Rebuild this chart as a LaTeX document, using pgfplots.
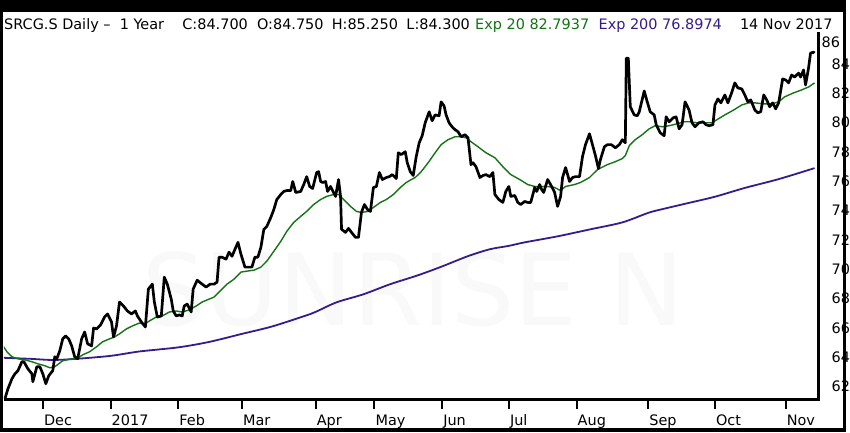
\documentclass[border=0pt]{standalone}
\usepackage{fontspec}
\setmainfont{DejaVu Sans}
\usepackage{pgfplots}
\pgfplotsset{compat=1.18}
\definecolor{emagreen}{RGB}{20,115,20}
\definecolor{emapurple}{RGB}{52,28,140}
\begin{document}
\begin{tikzpicture}[x=1pt,y=1pt]
\fill[black] (0,0) rectangle (850,434);
\fill[white] (3,4) rectangle (847,422);
\node[text=black!2.5, font=\fontsize{100}{100}\selectfont, anchor=center] at (415,144) {SUNRISE N};
\begin{axis}[at={(4pt,33pt)}, anchor=south west, scale only axis,
  width=818pt, height=369pt,
  xmin=4, xmax=822, ymin=61.14, ymax=86.19,
  axis line style={draw=none},
  xtick={43,111,179,243,317,376,444,511,579,651,718,789},
  xticklabels={Dec,2017,Feb,Mar,Apr,May,Jun,Jul,Aug,Sep,Oct,Nov},
  xtick pos=left, tick align=outside, major tick length=10pt,
  x tick style={black, line width=2pt},
  ytick={62,64,...,84}, ytick pos=right, yticklabel pos=right,
  y tick style={draw=none},
  yticklabel style={anchor=west, inner sep=0pt, xshift=3pt},
  xticklabel style={anchor=base west, inner sep=0pt, xshift=1pt, yshift=-16pt},
  ticklabel style={font=\fontsize{14.5}{14.5}\selectfont},
  /pgf/number format/assume math mode=true,
  name=ax]
\addplot[emapurple, line width=1.8pt, smooth] coordinates {
(3,63.97) (30,63.90) (53,63.82) (77,63.90) (111,64.1) (140,64.4) (179,64.68) (210,65.05) (243,65.6) (273,66.1) (305,66.8) (317,67.1) (338,67.75) (365,68.3) (392,68.99) (420,69.6) (444,70.2) (470,70.9) (492,71.37) (511,71.6) (527,71.84) (560,72.25) (593,72.73) (625,73.2) (651,73.85) (665,74.1) (690,74.5) (718,74.95) (748,75.55) (782,76.15) (818,76.9)
};
\addplot[emagreen, line width=1.4pt] coordinates {
(3,64.78) (7,64.38) (12,64.04) (18,63.90) (25,63.83) (32,63.70) (38,63.56) (45,63.43) (50,63.29) (55,63.36) (59,63.56) (63,63.77) (67,63.83) (72,63.90) (77,63.90) (83,64.17) (90,64.38) (97,64.72) (103,65.06) (110,65.26) (115,65.39) (120,65.60) (127,65.94) (133,66.14) (140,66.34) (145,66.25) (150,66.48) (157,66.75) (163,66.82) (170,67.09) (177,67.16) (183,67.09) (190,67.23) (197,67.50) (203,67.77) (210,67.97) (215,68.11) (220,68.45) (228,68.99) (235,69.33) (242,69.81) (248,69.88) (255,69.94) (262,70.15) (268,70.56) (275,71.23) (282,71.91) (288,72.59) (295,73.20) (302,73.61) (308,73.95) (315,74.42) (322,74.76) (328,74.97) (335,75.10) (340,75.10) (345,74.76) (352,74.29) (358,73.95) (363,73.88) (370,73.95) (375,74.22) (382,74.56) (388,74.76) (395,75.10) (402,75.58) (408,75.92) (413,76.12) (417,76.26) (423,76.66) (430,77.27) (437,77.95) (443,78.50) (450,78.84) (457,79.04) (463,79.04) (468,78.97) (473,78.70) (480,78.36) (488,77.95) (497,77.61) (505,77.00) (513,76.46) (522,76.12) (530,75.78) (537,75.65) (543,75.65) (550,75.65) (557,75.58) (563,75.37) (568,75.65) (577,75.78) (583,75.92) (592,76.26) (600,76.80) (610,77.14) (618,77.34) (625,77.55) (628,77.75) (632,78.43) (638,78.84) (645,79.18) (652,79.58) (658,79.79) (665,79.72) (672,79.79) (680,79.92) (687,80.06) (693,80.06) (700,79.99) (708,79.99) (715,79.99) (720,80.20) (728,80.53) (737,80.87) (745,81.21) (752,81.35) (758,81.35) (767,81.28) (775,81.28) (782,81.42) (788,81.76) (797,82.03) (805,82.23) (812,82.43) (818,82.71)
};
\addplot[black, line width=2.7pt, line join=round] coordinates {
(5,61.19) (8,61.86) (12,62.54) (15,62.88) (18,63.09) (22,63.70) (24,63.70) (28,63.22) (32,62.88) (33,62.34) (37,63.36) (40,63.36) (43,62.88) (46,62.20) (49,62.75) (53,63.09) (55,64.04) (57,63.90) (60,64.44) (63,65.26) (66,65.46) (69,65.26) (72,64.78) (75,64.04) (78,63.90) (82,65.26) (85,65.73) (88,64.92) (92,64.78) (94,66.00) (97,65.94) (101,66.21) (105,66.75) (108,66.96) (112,66.41) (114,65.39) (117,66.14) (120,67.77) (124,67.50) (128,67.16) (132,66.96) (136,67.16) (138,66.82) (142,66.41) (146,66.07) (149,68.65) (153,68.99) (155,67.77) (158,66.75) (162,66.82) (165,69.47) (168,68.99) (172,67.97) (174,67.16) (177,66.82) (180,66.89) (183,66.82) (185,67.50) (188,67.63) (192,67.09) (194,68.65) (198,69.26) (203,68.99) (207,68.79) (211,68.99) (215,68.99) (218,69.13) (220,70.83) (223,70.83) (227,70.69) (230,71.17) (233,70.89) (236,71.37) (239,71.84) (242,71.03) (246,70.15) (250,70.15) (253,70.15) (256,70.83) (259,70.83) (262,71.50) (265,72.73) (268,72.93) (272,73.54) (275,74.08) (278,74.76) (282,75.10) (285,75.31) (288,75.37) (292,75.37) (294,75.99) (297,75.24) (302,75.31) (305,75.78) (308,76.32) (311,75.65) (314,75.51) (318,76.60) (320,76.66) (322,75.99) (324,75.92) (327,75.99) (329,75.31) (332,75.65) (335,75.24) (337,74.97) (340,76.12) (342,74.97) (343,72.73) (347,72.52) (350,72.79) (353,72.52) (357,72.18) (360,72.18) (363,73.88) (366,74.42) (369,74.08) (372,73.95) (375,75.58) (378,75.65) (381,76.60) (384,76.12) (388,76.26) (391,76.32) (394,76.46) (398,76.19) (400,77.95) (403,77.82) (407,78.02) (409,77.27) (412,76.66) (415,76.40) (418,77.68) (421,78.63) (424,79.11) (427,79.99) (431,80.74) (434,80.13) (437,80.53) (441,80.47) (443,81.42) (446,81.14) (448,80.53) (451,79.99) (454,79.72) (457,79.52) (460,79.38) (463,79.04) (467,79.18) (470,78.97) (473,77.14) (475,77.27) (478,77.00) (482,76.26) (485,76.39) (488,76.46) (492,76.32) (495,76.60) (497,75.10) (501,74.76) (505,74.56) (508,75.31) (511,75.65) (513,74.97) (517,75.03) (520,74.56) (523,74.42) (527,74.63) (530,74.56) (533,74.56) (537,75.58) (539,75.31) (542,75.78) (544,75.44) (546,75.24) (550,76.12) (553,75.78) (557,75.24) (560,74.29) (563,74.97) (565,76.26) (568,76.94) (572,75.99) (575,76.26) (578,76.32) (582,76.32) (585,77.68) (588,78.50) (592,79.24) (595,78.50) (598,77.75) (601,76.87) (603,77.48) (607,78.36) (610,78.50) (614,78.50) (618,78.29) (622,78.50) (625,78.84) (628,78.63) (629,84.40) (631,84.40) (633,81.08) (637,80.53) (640,80.47) (642,80.74) (647,82.16) (650,81.42) (653,80.74) (657,80.53) (659,79.86) (663,79.31) (667,79.11) (669,80.40) (672,80.06) (676,80.33) (679,80.40) (682,79.58) (685,79.86) (688,81.42) (692,80.87) (695,79.99) (698,79.72) (702,79.99) (706,80.06) (709,79.86) (712,79.79) (716,79.86) (718,81.21) (721,81.62) (724,81.35) (728,81.89) (731,81.35) (734,81.89) (738,82.71) (741,82.37) (745,82.30) (748,81.89) (751,81.42) (754,81.55) (758,80.87) (761,80.67) (764,80.74) (767,81.89) (770,81.55) (773,81.08) (776,81.35) (779,80.94) (782,81.35) (786,82.98) (789,82.91) (792,82.71) (795,83.25) (798,83.11) (802,83.38) (804,83.11) (807,83.59) (809,82.57) (812,83.72) (814,84.74) (817,84.81) (818,84.74)
};
\end{axis}
\draw[line width=2.5pt] (ax.south west) -- (ax.south east) -- (ax.north east);
\node[anchor=north west, inner sep=0pt, font=\fontsize{14.5}{14.5}\selectfont] at (825,397.3) {86};
\begin{scope}[every node/.style={anchor=base west, inner sep=0pt, font=\fontsize{14.5}{17}\selectfont}]
\node at (4,404.7) {SRCG.S Daily \textendash\ \ 1 Year};
\node at (183,404.7) {C:84.700};
\node at (258,404.7) {O:84.750};
\node at (333,404.7) {H:85.250};
\node at (408,404.7) {L:84.300};
\node[text=emagreen] at (477,404.7) {Exp 20 82.7937};
\node[text=emapurple] at (601,404.7) {Exp 200 76.8974};
\node at (743,404.7) {14 Nov 2017};
\end{scope}
\end{tikzpicture}
\end{document}
